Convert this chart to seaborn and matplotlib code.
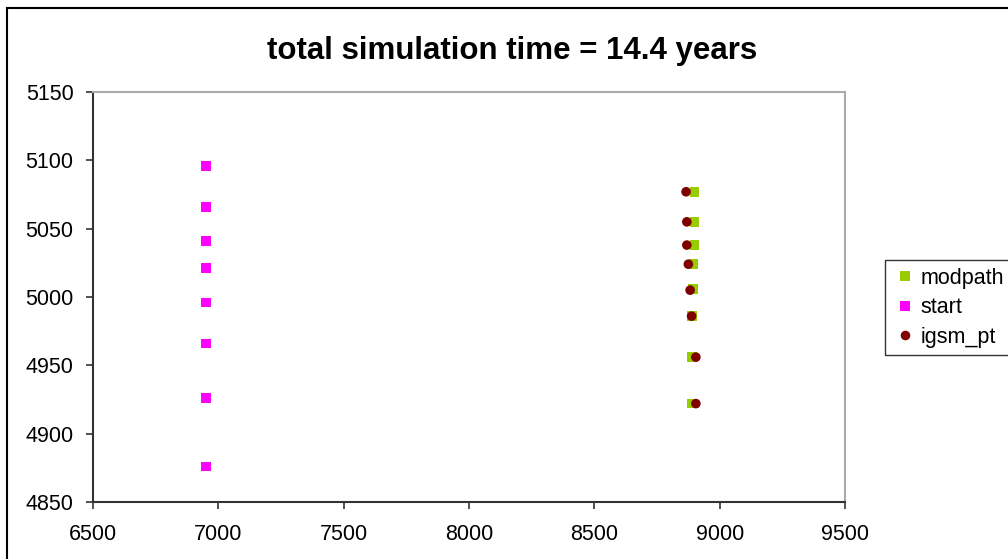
import matplotlib
matplotlib.use("Agg")
import matplotlib.pyplot as plt
import seaborn as sns
import pandas as pd
from matplotlib.patches import Rectangle

# values
modpath_x = [8900, 8900, 8900, 8895, 8893, 8890, 8890, 8890]
modpath_y = [5077, 5055, 5038, 5024, 5006, 4986, 4956, 4922]
start_x = [6950, 6950, 6950, 6950, 6950, 6950, 6950, 6950]
start_y = [5096, 5066, 5041, 5021, 4996, 4966, 4926, 4876]
igsm_x = [8866, 8869, 8869, 8875, 8882, 8888, 8905, 8905]
igsm_y = [5077, 5055, 5038, 5024, 5005, 4986, 4956, 4922]

df = pd.concat([
    pd.DataFrame({"x": modpath_x, "y": modpath_y, "series": "modpath"}),
    pd.DataFrame({"x": start_x, "y": start_y, "series": "start"}),
    pd.DataFrame({"x": igsm_x, "y": igsm_y, "series": "igsm_pt"}),
])

sns.set_style("white")
plt.rcParams["font.family"] = ["Liberation Sans", "DejaVu Sans"]
plt.rcParams["text.color"] = "black"
plt.rcParams["xtick.color"] = "black"
plt.rcParams["ytick.color"] = "black"

fig = plt.figure(figsize=(10.08, 5.59), dpi=100)
ax = fig.add_axes([0.0923, 0.1020, 0.7460, 0.7334])

sns.scatterplot(data=df, x="x", y="y", hue="series", style="series",
                palette={"modpath": "#99CC00", "start": "#FF00FF", "igsm_pt": "#800000"},
                markers={"modpath": "s", "start": "s", "igsm_pt": "o"},
                s=48, linewidth=0, ax=ax)

ax.set_xlim(6500, 9500)
ax.set_ylim(4850, 5150)
ax.set_xticks(range(6500, 9501, 500))
ax.set_yticks(range(4850, 5151, 50))
ax.set_xlabel("")
ax.set_ylabel("")
ax.tick_params(axis="both", labelsize=15.5, length=5, width=1.2, color="#333333",
               labelcolor="black", direction="out", bottom=True, left=True)
ax.tick_params(axis="x", pad=11)
ax.tick_params(axis="y", pad=9)
for side in ["left", "bottom"]:
    ax.spines[side].set_color("#333333")
    ax.spines[side].set_linewidth(1.5)
for side in ["top", "right"]:
    ax.spines[side].set_color("#aaaaaa")
    ax.spines[side].set_linewidth(1.5)

fig.text(0.508, 0.908, "total simulation time = 14.4 years", ha="center", va="center",
         fontsize=22.5, fontweight="bold", color="black")

leg = ax.legend(loc="upper left", bbox_to_anchor=(885 / 1008, 1 - 260 / 559),
                bbox_transform=fig.transFigure, fontsize=15.5, frameon=True,
                fancybox=False, borderpad=0.35, handletextpad=0.1, labelspacing=0.4,
                handlelength=1.2, borderaxespad=0)
leg.get_frame().set_edgecolor("black")
leg.get_frame().set_linewidth(1.0)
for t in leg.get_texts():
    t.set_color("black")

# outer chart border (only left and top visible)
fig.patches.append(Rectangle((7 / 1008, -0.1), 1.2, 1 - 8 / 559 + 0.1,
                             transform=fig.transFigure, fill=False,
                             edgecolor="black", linewidth=1.5))

fig.savefig("out.png", dpi=100)
